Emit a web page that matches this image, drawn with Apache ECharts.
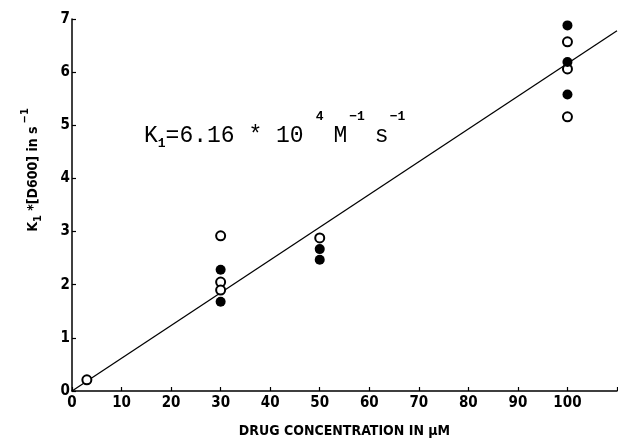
<!DOCTYPE html>
<html>
<head>
<meta charset="utf-8">
<script src="https://cdn.jsdelivr.net/npm/echarts@6/dist/echarts.min.js"></script>
<style>html,body{margin:0;padding:0;background:#fff}#c{width:618px;height:440px}</style>
</head>
<body>
<div id="c"></div>
<script>
// Open circles (drug concentration µM, k1*[D600] s^-1)
const openX = [3, 30, 30, 30, 50, 100, 100, 100];
const openY = [0.21, 2.92, 2.05, 1.9, 2.88, 6.57, 6.06, 5.16];
// Filled circles
const filledX = [30, 30, 50, 50, 100, 100, 100];
const filledY = [2.28, 1.68, 2.67, 2.47, 6.88, 6.19, 5.58];
// Fitted line end points
const lineX = [0, 110];
const lineY = [0, 6.78];
const xTicks = ['0','10','20','30','40','50','60','70','80','90','100'];

const pair = (xs, ys) => xs.map((x, i) => [x, ys[i]]);
const tickFont = 'DejaVu Sans Condensed';
const mono = 'Liberation Mono';

const chart = echarts.init(document.getElementById('c'), null, {renderer: 'canvas'});
chart.setOption({
  animation: false,
  backgroundColor: '#fff',
  grid: {left: 72, right: 1, top: 19, bottom: 49, containLabel: false, outerBoundsMode: 'none'},
  xAxis: {
    type: 'value', min: 0, max: 110, interval: 10,
    axisLine: {lineStyle: {color: '#000', width: 1.5}},
    axisTick: {inside: true, length: 4, lineStyle: {color: '#000', width: 1.2}},
    splitLine: {show: false},
    axisLabel: {
      color: '#000', fontFamily: tickFont, fontWeight: 'bold', fontSize: 15, margin: 5,
      formatter: v => { const i = Math.round(v / 10); return i < xTicks.length ? xTicks[i] : ''; }
    },
    name: 'DRUG CONCENTRATION IN µM', nameLocation: 'middle', nameGap: 33,
    nameTextStyle: {color: '#000', fontFamily: tickFont, fontWeight: 'bold', fontSize: 14}
  },
  yAxis: {
    type: 'value', min: 0, max: 7, interval: 1,
    axisLine: {lineStyle: {color: '#000', width: 1.5}},
    axisTick: {inside: true, length: 4, lineStyle: {color: '#000', width: 1.2}},
    splitLine: {show: false},
    axisLabel: {color: '#000', fontFamily: tickFont, fontWeight: 'bold', fontSize: 15, margin: 2}
  },
  graphic: [
    {
      type: 'text', x: 33, y: 170, rotation: Math.PI / 2,
      style: {
        text: '{m|K}{sub|1}{m| *[D600] in s}{sup|−1}',
        align: 'center', verticalAlign: 'middle',
        rich: {
          m: {fontFamily: tickFont, fontWeight: 'bold', fontSize: 14, fill: '#000', lineHeight: 30, verticalAlign: 'middle'},
          sub: {fontFamily: tickFont, fontWeight: 'bold', fontSize: 11, fill: '#000', lineHeight: 30, verticalAlign: 'bottom', padding: [0,0,4,0]},
          sup: {fontFamily: tickFont, fontWeight: 'bold', fontSize: 11, fill: '#000', lineHeight: 30, verticalAlign: 'top', padding: [2,0,0,3]}
        }
      }
    },
    {
      type: 'text', x: 144, y: 136,
      style: {
        text: '{m|K}{sub|1}{m|=6.16 * 10}{s4|4}{m|M}{s1|−1}{m|s}{s2|−1}',
        align: 'left', verticalAlign: 'middle',
        rich: {
          m: {fontFamily: mono, fontSize: 23, fill: '#000', lineHeight: 52, verticalAlign: 'middle'},
          sub: {fontFamily: mono, fontSize: 13, fontWeight: 'bold', fill: '#000', lineHeight: 52, verticalAlign: 'bottom', padding: [0,0,12,0]},
          s4: {fontFamily: mono, fontSize: 13, fontWeight: 'bold', fill: '#000', lineHeight: 52, verticalAlign: 'top', padding: [0,10,0,12]},
          s1: {fontFamily: mono, fontSize: 13, fontWeight: 'bold', fill: '#000', lineHeight: 52, verticalAlign: 'top', padding: [0,10,0,2]},
          s2: {fontFamily: mono, fontSize: 13, fontWeight: 'bold', fill: '#000', lineHeight: 52, verticalAlign: 'top', padding: [0,0,0,1]}
        }
      }
    }
  ],
  series: [
    {
      type: 'line', data: pair(lineX, lineY), showSymbol: false, symbol: 'none',
      lineStyle: {color: '#000', width: 1.3}, z: 1
    },
    {
      type: 'scatter', data: pair(openX, openY), symbol: 'circle', symbolSize: 9,
      itemStyle: {color: '#fff', borderColor: '#000', borderWidth: 2, opacity: 1}, z: 3
    },
    {
      type: 'scatter', data: pair(filledX, filledY), symbol: 'circle', symbolSize: 10,
      itemStyle: {color: '#000', opacity: 1}, z: 4
    }
  ]
});
</script>
</body>
</html>
